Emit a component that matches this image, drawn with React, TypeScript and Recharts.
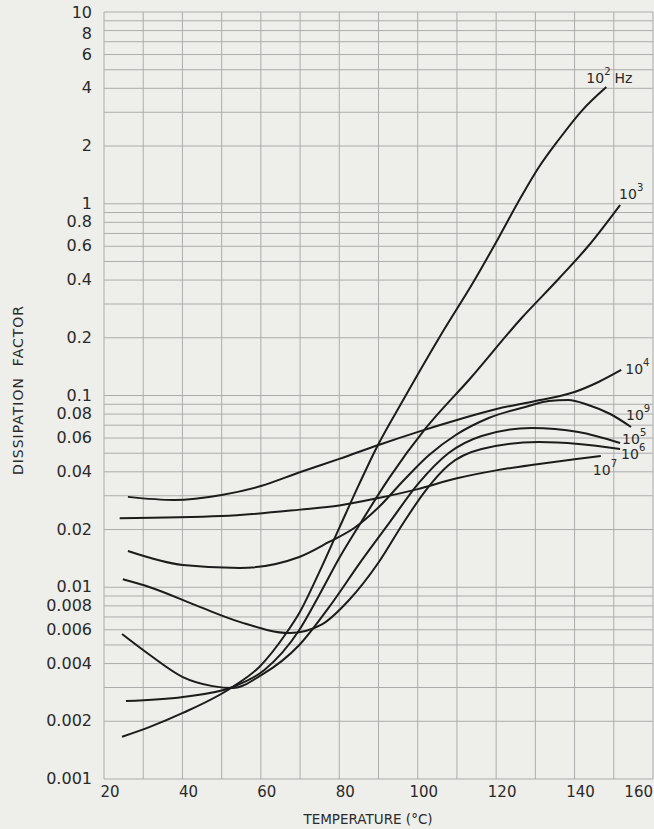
import React from 'react';
import { LineChart, Line, XAxis, YAxis, CartesianGrid, LabelList, Label } from 'recharts';

// temperatures (°C) and dissipation factor
const temp1e2 = [24.6, 31.7, 40.1, 52.8, 59.6, 66.5, 69.8, 74.9, 80, 85.1, 89.6, 96, 105.4, 114.5, 120.6, 126.2, 130.8, 135.9, 142, 148.1];
const df1e2 = [0.00166, 0.00187, 0.00221, 0.00302, 0.00384, 0.00577, 0.00734, 0.012, 0.0204, 0.0346, 0.0539, 0.0925, 0.199, 0.4, 0.663, 1.07, 1.54, 2.15, 3.08, 4.06];

const temp1e3 = [25.6, 40.1, 52.8, 60.9, 69.8, 74.9, 80, 85.6, 92.7, 102.1, 113.5, 126.5, 135.9, 143.5, 151.6];
const df1e3 = [0.00255, 0.00268, 0.00302, 0.0037, 0.00598, 0.00911, 0.0142, 0.0219, 0.0371, 0.0677, 0.1234, 0.2536, 0.405, 0.602, 0.985];

const temp1e4 = [26.1, 38, 50, 60, 70.1, 80, 90, 100.1, 110, 120.1, 130, 140, 146.1, 151.9];
const df1e4 = [0.0296, 0.0285, 0.0303, 0.0337, 0.0399, 0.0467, 0.0552, 0.0646, 0.0745, 0.085, 0.0936, 0.1043, 0.1176, 0.1359];

const temp1e5 = [24.6, 31.7, 40.1, 47.7, 52.8, 60.2, 69.8, 77.4, 85.8, 92.7, 100.3, 107.9, 116.3, 129, 141, 151.6];
const df1e5 = [0.0057, 0.00443, 0.0034, 0.00305, 0.00298, 0.00349, 0.005, 0.00788, 0.0139, 0.0216, 0.035, 0.0501, 0.0615, 0.0677, 0.0645, 0.0565];

const temp1e6 = [24.8, 31.7, 44.4, 54.6, 67.3, 75.7, 82.5, 90.1, 96.5, 102.1, 107.9, 116.3, 130.8, 141, 151.6];
const df1e6 = [0.011, 0.01, 0.0079, 0.0066, 0.00577, 0.00643, 0.00858, 0.01354, 0.0219, 0.0321, 0.0434, 0.0526, 0.0572, 0.0559, 0.0526];

const temp1e7 = [24, 50, 70, 80, 90, 100, 110, 120, 130, 140, 146.7];
const df1e7 = [0.0229, 0.0235, 0.0254, 0.0267, 0.0292, 0.0325, 0.037, 0.0407, 0.0437, 0.0465, 0.0483];

const temp1e9 = [26.1, 40.1, 54.6, 69.8, 77.4, 83.8, 90.1, 96.5, 102.9, 109.7, 118.1, 128.3, 133.4, 138.4, 143.5, 149.1, 154.4];
const df1e9 = [0.01545, 0.01306, 0.0126, 0.01438, 0.01722, 0.02037, 0.02621, 0.03625, 0.04894, 0.06223, 0.0763, 0.08813, 0.09361, 0.09473, 0.08923, 0.08009, 0.06853];

const xTicks = [20, 30, 40, 50, 60, 70, 80, 90, 100, 110, 120, 130, 140, 150, 160];
const xLabels = [20, 40, 60, 80, 100, 120, 140, 160];
const yTicks = [
  0.001, 0.002, 0.003, 0.004, 0.005, 0.006, 0.007, 0.008, 0.009,
  0.01, 0.02, 0.03, 0.04, 0.05, 0.06, 0.07, 0.08, 0.09,
  0.1, 0.2, 0.3, 0.4, 0.5, 0.6, 0.7, 0.8, 0.9,
  1, 2, 3, 4, 5, 6, 7, 8, 9, 10,
];
const yLabels = [0.001, 0.002, 0.004, 0.006, 0.008, 0.01, 0.02, 0.04, 0.06, 0.08, 0.1, 0.2, 0.4, 0.6, 0.8, 1, 2, 4, 6, 8, 10];

const series = [
  { key: 'f2', t: temp1e2, v: df1e2, sup: '2', unit: 'Hz', dx: -20, dy: -4 },
  { key: 'f3', t: temp1e3, v: df1e3, sup: '3', unit: '', dx: -1, dy: -6 },
  { key: 'f4', t: temp1e4, v: df1e4, sup: '4', unit: '', dx: 4, dy: 4 },
  { key: 'f5', t: temp1e5, v: df1e5, sup: '5', unit: '', dx: 2, dy: 1 },
  { key: 'f6', t: temp1e6, v: df1e6, sup: '6', unit: '', dx: 1, dy: 10 },
  { key: 'f7', t: temp1e7, v: df1e7, sup: '7', unit: '', dx: -8, dy: 19 },
  { key: 'f9', t: temp1e9, v: df1e9, sup: '9', unit: '', dx: -5, dy: -7 },
];

const FONT = '"DejaVu Sans", sans-serif';
const INK = '#2a2a2a';

const XTick = (props: any) => {
  const { x, y, payload } = props;
  if (!xLabels.includes(payload.value)) return <g />;
  const last = payload.value === 160;
  return (
    <text x={last ? 653 : x + 6} y={y + 18} textAnchor={last ? 'end' : 'middle'}
      fontFamily={FONT} fontSize={15} fill={INK}>
      {payload.value}
    </text>
  );
};

const YTick = (props: any) => {
  const { x, y, payload } = props;
  const v = +Number(payload.value).toPrecision(3);
  if (!yLabels.includes(v)) return <g />;
  // the two top labels sit close together, nudge them apart a little
  const shift = v === 10 ? 1 : v === 8 ? 3 : 0;
  return (
    <text x={x - 12} y={y + shift} dy={5} textAnchor="end" fontFamily={FONT} fontSize={16} fill={INK}>
      {String(v)}
    </text>
  );
};

const curveLabel = (s: any) => (p: any) => {
  const n = s.t.length;
  const isLast = p.index != null ? p.index === n - 1 : p.value === s.v[n - 1];
  if (!isLast) return null;
  const x = p.x ?? p.viewBox?.x;
  const y = p.y ?? p.viewBox?.y;
  if (x == null || y == null) return null;
  return (
    <text x={x + s.dx} y={y + s.dy} fontFamily={FONT} fontSize={14} fill={INK}>
      <tspan>10</tspan>
      <tspan dy={-8} fontSize={10}>{s.sup}</tspan>
      {s.unit ? <tspan dy={8} dx={4}>{s.unit}</tspan> : null}
    </text>
  );
};

export default function App() {
  return (
    <div style={{ position: 'absolute', left: 0, top: 0, width: 654, height: 829, background: '#eeeeea' }}>
      <LineChart width={654} height={829} margin={{ top: 12, right: 1, bottom: 0, left: 0 }}>
        <CartesianGrid stroke="#acacac" strokeWidth={1} />
        <XAxis type="number" dataKey="t" domain={[20, 160]} ticks={xTicks} interval={0}
          allowDataOverflow axisLine={false} tickLine={false} tickSize={0} tickMargin={0}
          height={50} tick={<XTick />}>
          <Label content={() => (
            <text x={368} y={824} textAnchor="middle" fontFamily={FONT} fontSize={13.5}
              fill={INK}>TEMPERATURE (°C)</text>
          )} />
        </XAxis>
        <YAxis type="number" scale="log" domain={[0.001, 10]} ticks={yTicks} interval={0}
          allowDataOverflow axisLine={false} tickLine={false} tickSize={0} tickMargin={0}
          width={104} tick={<YTick />}>
          <Label content={() => (
            <text transform="translate(23,390) rotate(-90)" textAnchor="middle" fontFamily={FONT}
              fontSize={14} letterSpacing={1} fill={INK}>DISSIPATION{'\u00a0\u00a0'}FACTOR</text>
          )} />
        </YAxis>
        {series.map((s) => (
          <Line key={s.key} data={s.t.map((t, i) => ({ t, v: s.v[i] }))} dataKey="v"
            type="monotone" stroke="#1c1c1c" strokeWidth={2} dot={false} activeDot={false}
            isAnimationActive={false}>
            <LabelList dataKey="v" content={curveLabel(s)} />
          </Line>
        ))}
      </LineChart>
    </div>
  );
}
